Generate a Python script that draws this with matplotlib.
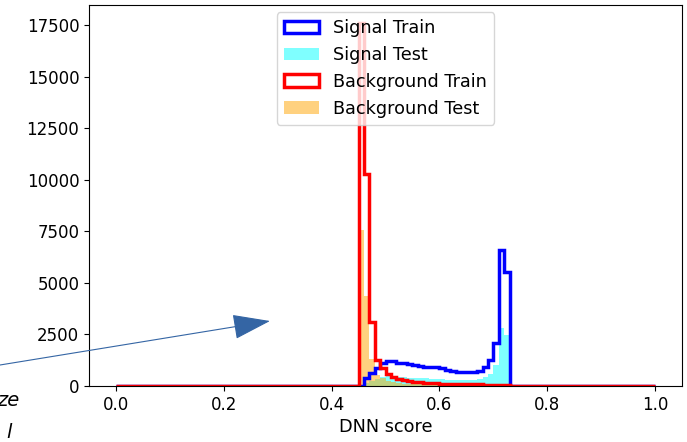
import numpy as np
import matplotlib
matplotlib.use("Agg")
import matplotlib.pyplot as plt

# 100 bins of width 0.01 on [0, 1]; the listed counts start at the 0.45 bin
edges = np.linspace(0, 1, 101)
first_bin = 45

sig_train = [0, 390, 630, 870, 1110, 1200, 1200, 1130, 1100, 1050,
             1020, 980, 940, 920, 900, 870, 780, 720, 680, 660,
             670, 700, 720, 935, 1260, 2100, 6600, 5550]
sig_test = [0, 150, 260, 360, 450, 480, 470, 450, 430, 410,
            400, 380, 370, 360, 350, 340, 310, 290, 280, 280,
            290, 310, 330, 430, 600, 1000, 2800, 2450]
bkg_train = [17600, 10300, 3100, 1260, 870, 580, 440, 340, 280, 230,
             200, 175, 155, 140, 125, 110, 100, 95, 90, 85,
             80, 75, 75, 70, 70, 65, 60, 50]
bkg_test = [7550, 4350, 1300, 530, 370, 250, 190, 145, 120, 100,
            85, 75, 65, 60, 55, 48, 44, 40, 38, 36,
            34, 32, 32, 30, 30, 28, 26, 22]


def full(counts):
    w = np.zeros(100)
    w[first_bin:first_bin + len(counts)] = counts
    return w


centers = 0.5 * (edges[:-1] + edges[1:])

plt.rcParams['font.size'] = 12
fig = plt.figure(figsize=(6.87, 4.42), dpi=100)
ax = fig.add_axes([0.1296, 0.1267, 0.8632, 0.862])

ax.hist(centers, bins=edges, weights=full(sig_train), histtype='step',
        color='blue', linewidth=2.5, label='Signal Train')
ax.hist(centers, bins=edges, weights=full(sig_test), histtype='stepfilled',
        color='cyan', alpha=0.5, label='Signal Test')
ax.hist(centers, bins=edges, weights=full(bkg_train), histtype='step',
        color='red', linewidth=2.5, label='Background Train')
ax.hist(centers, bins=edges, weights=full(bkg_test), histtype='stepfilled',
        color='orange', alpha=0.5, label='Background Test')

ax.set_xlim(-0.05, 1.05)
ax.set_xlabel('DNN score', fontsize=12.7, labelpad=3)
ax.legend(loc='upper center', fontsize=12.7, borderaxespad=0.4)

# slide arrow and cut-off caption on the left
ax.annotate('', xy=(270, 442 - 321), xycoords='figure pixels',
            xytext=(0, 442 - 365), textcoords='figure pixels',
            arrowprops=dict(arrowstyle='-|>,head_length=1.2,head_width=0.4',
                            mutation_scale=20, color='#3465a4', lw=0.8,
                            shrinkA=0, shrinkB=0),
            annotation_clip=False)
fig.text(19 / 687, 1 - 401 / 442, 'ze', ha='right', va='center',
         style='italic', fontsize=14)
fig.text(12 / 687, 1 - 432 / 442, 'l', ha='right', va='center',
         style='italic', fontsize=14)

fig.savefig('out.png', dpi=100)
